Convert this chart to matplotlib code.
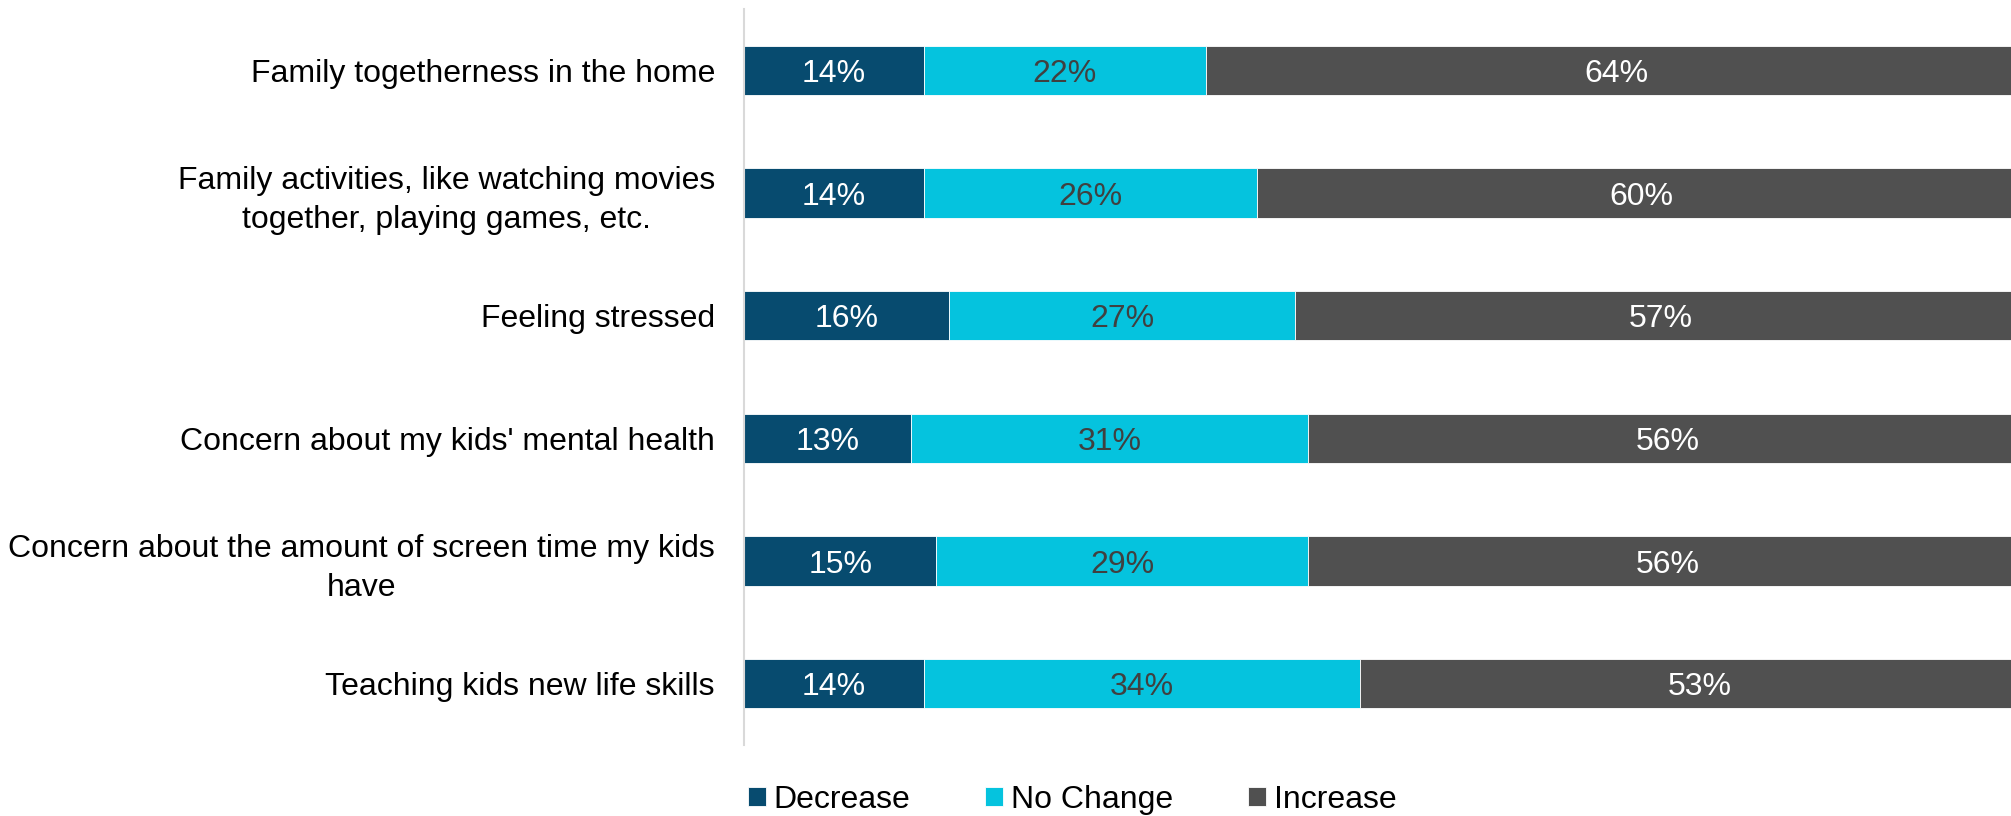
import matplotlib.pyplot as plt
import numpy as np

categories = [
    "Family togetherness in the home",
    "Family activities, like watching movies\ntogether, playing games, etc.",
    "Feeling stressed",
    "Concern about my kids' mental health",
    "Concern about the amount of screen time my kids\nhave",
    "Teaching kids new life skills",
]
decrease = [14, 14, 16, 13, 15, 14]
no_change = [22, 26, 27, 31, 29, 34]
increase = [64, 60, 57, 56, 56, 53]

series_names = ["Decrease", "No Change", "Increase"]
colors = ["#074B6F", "#05C3DE", "#505050"]
text_colors = ["white", "#404040", "white"]

plt.rcParams['font.family'] = ['Liberation Sans', 'DejaVu Sans']

fig = plt.figure(figsize=(20.11, 8.16), dpi=100)
ax = fig.add_axes([0.37, 0.087, 0.63, 0.902])

y = np.arange(len(categories))
left = np.zeros(len(categories))
for name, vals, c, tc in zip(series_names, [decrease, no_change, increase], colors, text_colors):
    vals = np.array(vals, dtype=float)
    ax.barh(y, vals, left=left, height=0.4, color=c, label=name,
            edgecolor='white', linewidth=0.6)
    for yi, l, v in zip(y, left, vals):
        ax.text(l + v / 2, yi + 0.03, f"{int(v)}%", ha='center', va='center',
                color=tc, fontsize=23)
    left += vals

ax.set_xlim(0, 98.8)
ax.set_ylim(len(categories) - 0.5, -0.5)
ax.set_yticks(y)
ax.set_yticklabels(categories, fontsize=23, multialignment='center', linespacing=1.35)
ax.tick_params(axis='y', length=0, pad=21)
ax.set_xticks([])
for s in ['top', 'right', 'bottom']:
    ax.spines[s].set_visible(False)
ax.spines['left'].set_color('#D9D9D9')
ax.spines['left'].set_linewidth(1.5)

handles, labels = ax.get_legend_handles_labels()
fig.legend(handles, labels, loc='center left', bbox_to_anchor=(0.372, 0.02), ncol=3,
           frameon=False, fontsize=23, handlelength=0.55, handleheight=0.55,
           handletextpad=0.25, columnspacing=2.35, borderaxespad=0, borderpad=0)

fig.savefig("out.png", dpi=100)
